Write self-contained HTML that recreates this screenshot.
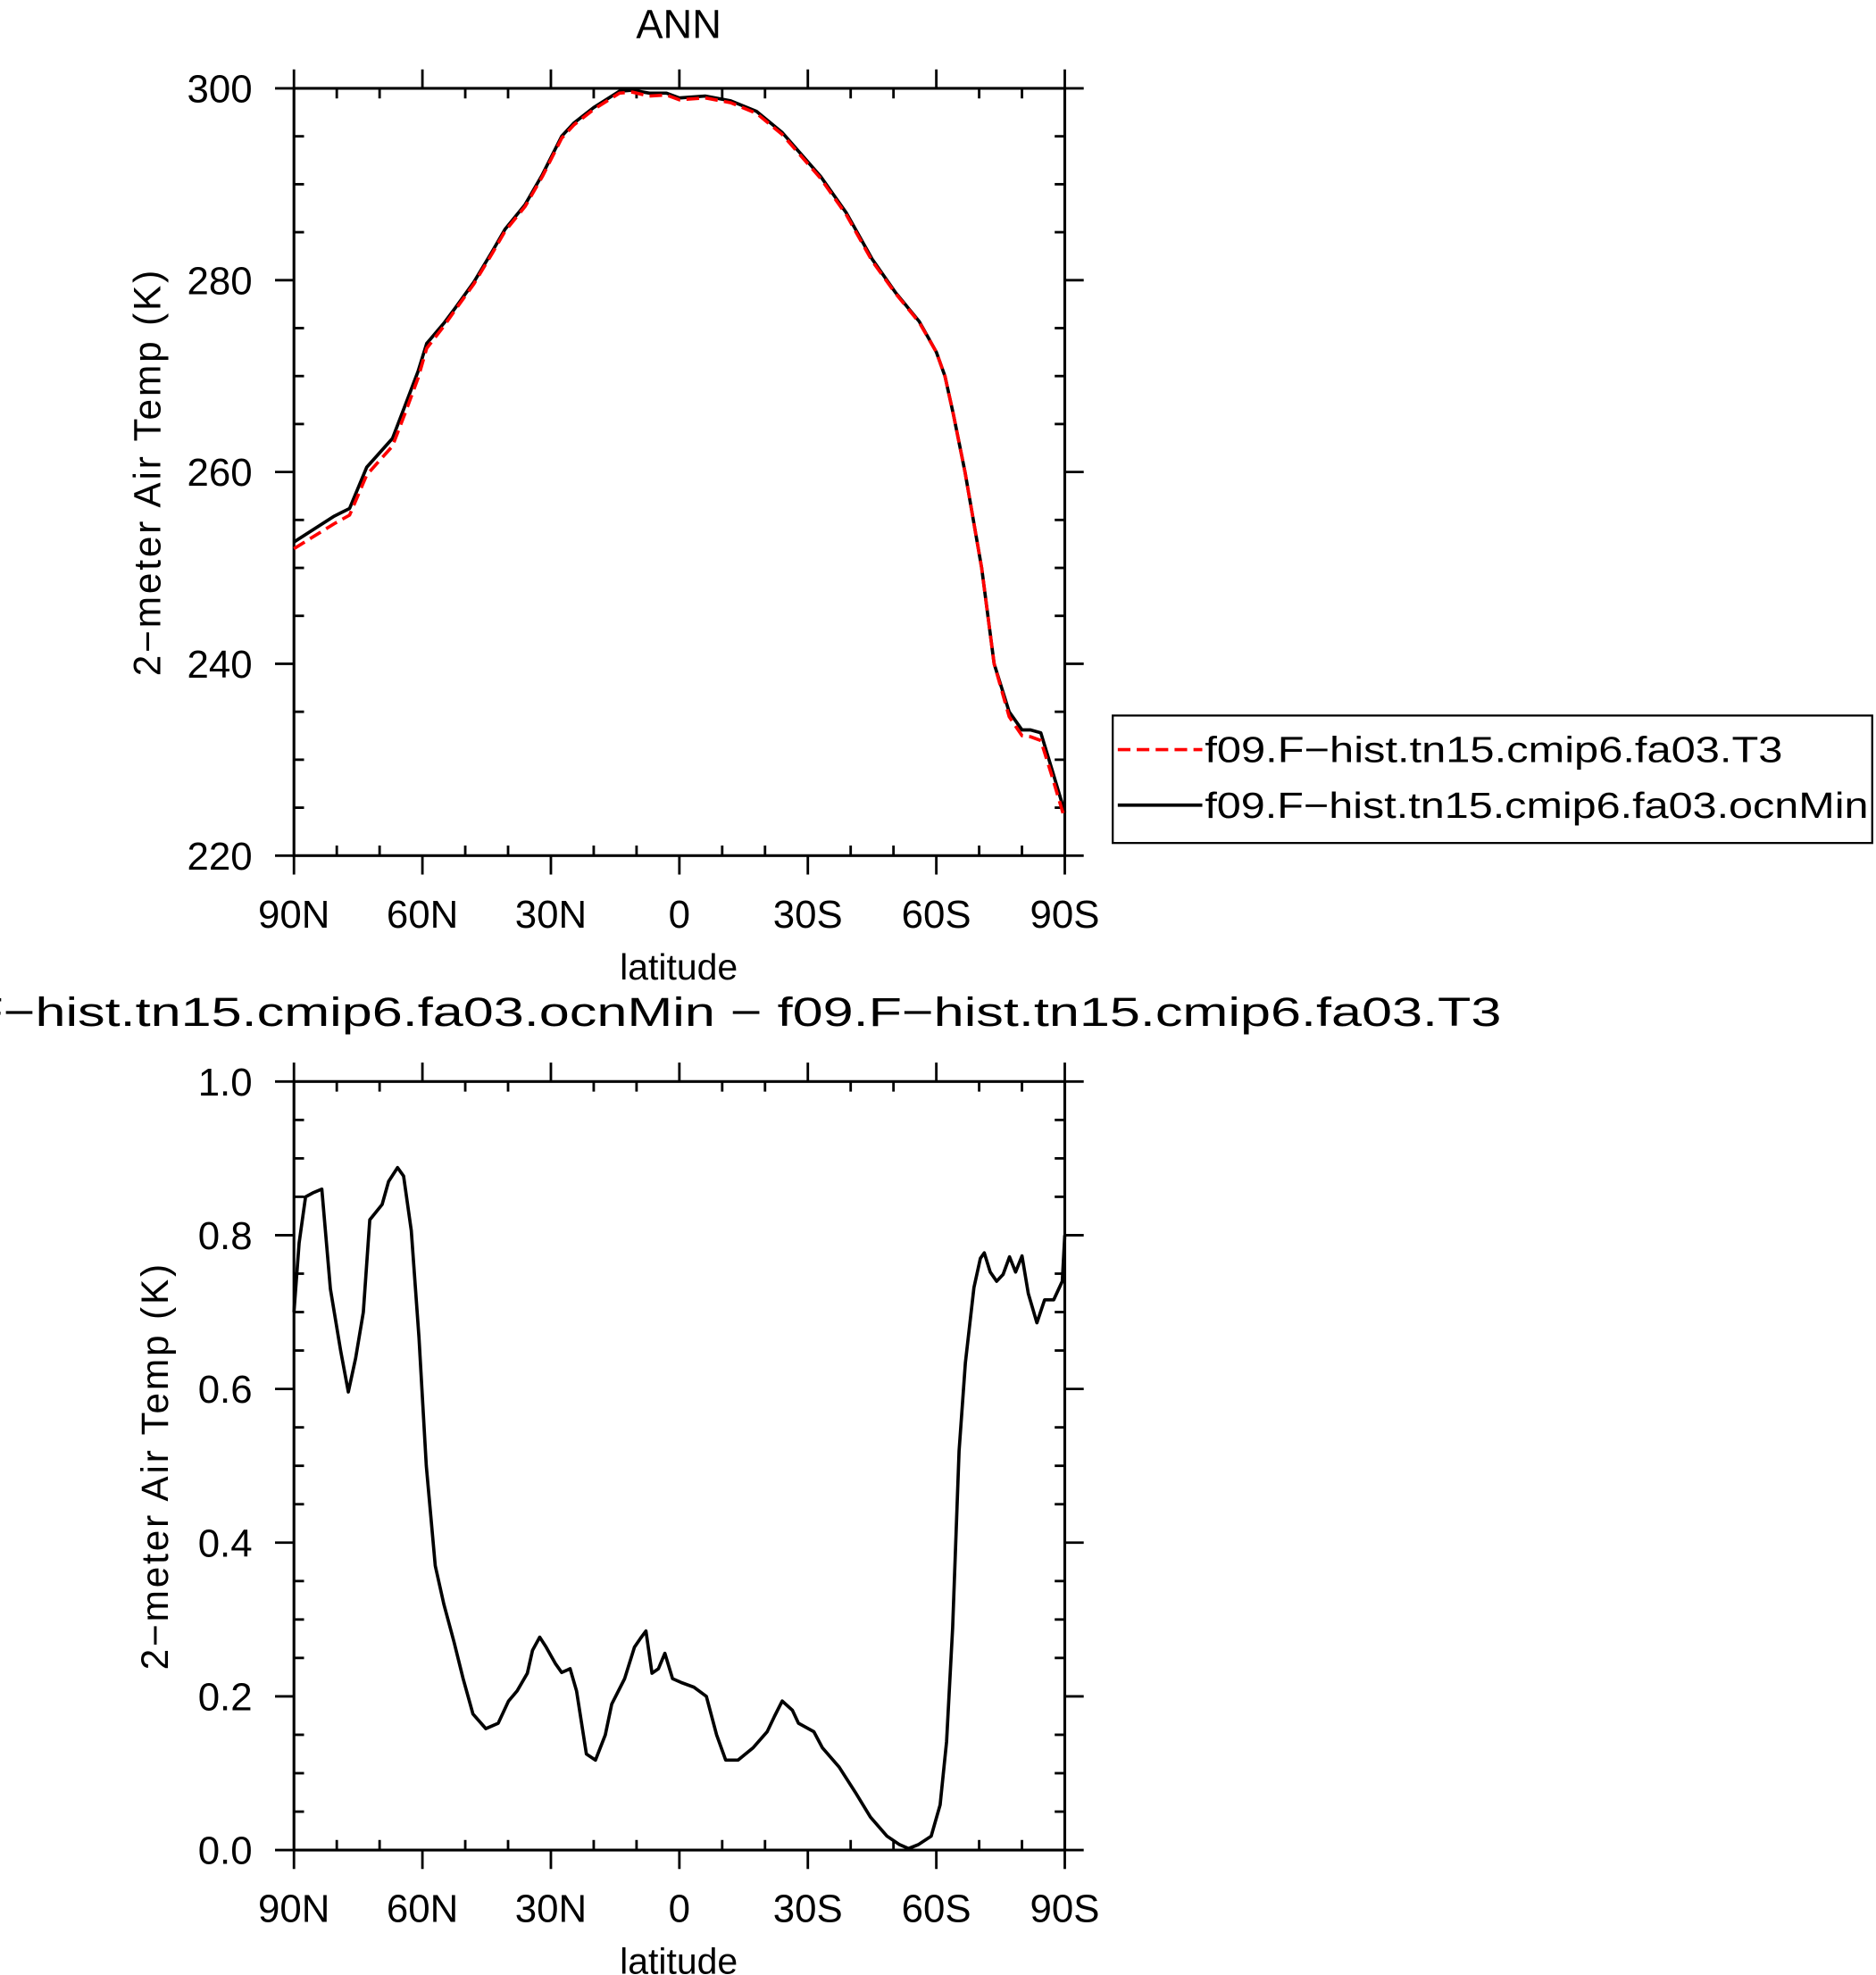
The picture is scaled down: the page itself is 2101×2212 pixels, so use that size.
<!DOCTYPE html>
<html><head><meta charset="utf-8"><style>html,body{margin:0;padding:0;background:#fff}svg{display:block}</style></head>
<body>
<svg id="c" width="2101" height="2212" viewBox="0 0 1487 1565" preserveAspectRatio="none" xmlns="http://www.w3.org/2000/svg" font-family="Liberation Sans, sans-serif"></svg>
<script>
const latTop = [90,80.6,77,73,70,67,64,61,59,55,52.5,48,43.7,40.7,36,32,27.5,24.6,20,14,11,7,3,0,-6,-12,-18,-24,-33,-39,-45,-50.5,-56,-60,-62,-64,-66.7,-70.6,-73.5,-77,-80,-82,-84.4,-87,-90];
const tempOcnMin = [252.7,255.4,256.2,260.5,262,263.5,267,270.5,273.4,275.5,277,279.8,283,285.3,287.9,291,295,296.4,298,299.7,299.8,299.5,299.5,299,299.2,298.7,297.6,295.4,290.8,287,282.2,278.7,275.7,272.5,270,266,260,250,240,235,233.1,233.1,232.8,229,224.5];
const tempT3 = [252.0,254.6,255.5,259.7,261.2,262.7,266.2,269.8,272.9,275.2,276.8,279.6,282.8,285.1,287.7,290.8,294.8,296.2,297.8,299.5,299.6,299.2,299.3,298.8,299,298.5,297.4,295.2,290.6,286.8,282,278.6,275.6,272.5,270,266,260,250,240,234.5,232.5,232.4,232.0,228.3,223.8];
const latDiff = [90,88.8,87.3,85.6,83.5,81.5,79.1,77.3,75.6,73.8,72.3,69.4,67.9,65.8,64.4,62.6,60.8,59.1,57,55,52.6,50.5,48.2,45.2,42.3,39.9,37.9,35.5,34.3,32.6,31.1,29,27.5,25.5,24,21.7,19.6,17.3,15.8,12.8,10.5,9,7.8,6.4,4.9,3.4,1.6,-0.4,-3.4,-6.3,-8.7,-10.8,-13.7,-17.2,-20.5,-22.2,-24,-26.4,-27.8,-31.4,-33.4,-37.3,-41.1,-44.6,-48.5,-51.4,-53.5,-55.8,-58.8,-60.9,-62.4,-63.8,-65.3,-66.8,-68.8,-70.3,-71.2,-72.6,-74.1,-75.6,-77.1,-78.5,-80,-81.5,-83.5,-85.3,-87.4,-89.4,-90];
const diffVals = [0.70,0.79,0.85,0.855,0.86,0.73,0.65,0.596,0.64,0.70,0.82,0.84,0.87,0.888,0.877,0.806,0.667,0.50,0.37,0.32,0.27,0.223,0.177,0.158,0.165,0.194,0.207,0.23,0.26,0.277,0.264,0.243,0.231,0.236,0.207,0.125,0.117,0.15,0.19,0.223,0.264,0.276,0.285,0.23,0.236,0.256,0.223,0.218,0.212,0.2,0.15,0.117,0.117,0.133,0.154,0.174,0.194,0.182,0.165,0.154,0.133,0.108,0.075,0.043,0.018,0.007,0.002,0.007,0.018,0.059,0.141,0.289,0.519,0.634,0.732,0.770,0.777,0.752,0.74,0.749,0.772,0.752,0.773,0.724,0.686,0.716,0.716,0.74,0.8];
const xTickLabels = ["90N","60N","30N","0","30S","60S","90S"];
const topYTicks = [220,240,260,280,300];
const botYTicks = ["0.0","0.2","0.4","0.6","0.8","1.0"];

const NS="http://www.w3.org/2000/svg", svgRoot=document.getElementById('c');
function el(tag,attrs,parent){const e=document.createElementNS(NS,tag);for(const k in attrs)e.setAttribute(k,attrs[k]);(parent||svgRoot).appendChild(e);return e;}
const X0=233,X1=844;
const xs=lat=>X0+(90-lat)/180*(X1-X0);

function panel(name,yT,yB,vmin,vmax,major,minorStep,labels){
  const g=el('g',{});
  
  
  const ys=v=>yB-(v-vmin)/(vmax-vmin)*(yB-yT);
  el('rect',{x:X0,y:yT,width:X1-X0,height:yB-yT,fill:'none',stroke:'#000','stroke-width':2.2},g);
  for(let i=0;i<=18;i++){const x=xs(90-i*10);const maj=i%3==0;
    el('line',{x1:x,x2:x,y1:yB,y2:maj?yB+15:yB-8,stroke:'#000','stroke-width':2},g);
    el('line',{x1:x,x2:x,y1:yT,y2:maj?yT-15:yT+8,stroke:'#000','stroke-width':2},g);}
  const nMinor=Math.round((vmax-vmin)/minorStep), per=Math.round(major/minorStep);
  for(let k=0;k<=nMinor;k++){const v=vmin+k*minorStep;const y=ys(v);const maj=k%per==0;
    el('line',{x1:X0,x2:maj?X0-15:X0+8,y1:y,y2:y,stroke:'#000','stroke-width':2},g);
    el('line',{x1:X1,x2:maj?X1+15:X1-8,y1:y,y2:y,stroke:'#000','stroke-width':2},g);}
  labels.forEach((l,i)=>{const t=el('text',{x:200,y:ys(vmin+i*major)+11,'text-anchor':'end','font-size':31},g);t.textContent=l;
    
    });
  xTickLabels.forEach((l,i)=>{const t=el('text',{x:xs(90-i*30),y:yB+57,'text-anchor':'middle','font-size':31},g);t.textContent=l;
    
    });
  const xt=el('text',{x:538,y:yB+98,'text-anchor':'middle','font-size':29},g);xt.textContent='latitude';
  
  
  const cy=(yT+yB)/2;
  const yt=el('text',{x:0,y:0,'text-anchor':'middle','font-size':30,'letter-spacing':2,transform:`translate(${name=='top-panel'?127:133},${cy}) rotate(-90)`},g);
  yt.textContent='2\u2212meter Air Temp (K)';
  
  
  return {g,ys};
}
function line(g,lats,vals,ys,attrs,name){
  const d=lats.map((l,i)=>(i?'L':'M')+xs(l).toFixed(1)+' '+ys(vals[i]).toFixed(1)).join(' ');
  const p=el('path',Object.assign({d,fill:'none','stroke-linejoin':'round'},attrs),g);
  
  
}
const topP=panel('top-panel',70,678,220,300,20,5,topYTicks.map(String));
line(topP.g,latTop,tempOcnMin,topP.ys,{stroke:'#000','stroke-width':2.6},'line-ocnMin');
line(topP.g,latTop,tempT3,topP.ys,{stroke:'#f00','stroke-width':2.6,'stroke-dasharray':'10 5'},'line-T3');
const botP=panel('bottom-panel',857,1466,0,1,0.2,0.05,botYTicks);
line(botP.g,latDiff,diffVals,botP.ys,{stroke:'#000','stroke-width':2.6},'line-diff');

const t1=el('text',{x:538,y:30,'text-anchor':'middle','font-size':32});t1.textContent='ANN';


const t2=el('text',{x:-96,y:813,'font-size':32,textLength:1286,lengthAdjust:'spacingAndGlyphs'});
t2.textContent='f09.F\u2212hist.tn15.cmip6.fa03.ocnMin \u2212 f09.F\u2212hist.tn15.cmip6.fa03.T3';



const lg=el('g',{});


el('rect',{x:882,y:567,width:602,height:101,fill:'#fff',stroke:'#000','stroke-width':1.6},lg);
el('line',{x1:886,x2:953,y1:594,y2:594,stroke:'#f00','stroke-width':2.6,'stroke-dasharray':'10 5'},lg);
el('line',{x1:886,x2:953,y1:638,y2:638,stroke:'#000','stroke-width':2.6},lg);
const l1=el('text',{x:955,y:604,'font-size':29,textLength:458,lengthAdjust:'spacingAndGlyphs'},lg);l1.textContent='f09.F\u2212hist.tn15.cmip6.fa03.T3';


const l2=el('text',{x:955,y:648,'font-size':29,textLength:526,lengthAdjust:'spacingAndGlyphs'},lg);l2.textContent='f09.F\u2212hist.tn15.cmip6.fa03.ocnMin';


</script>
</body></html>
